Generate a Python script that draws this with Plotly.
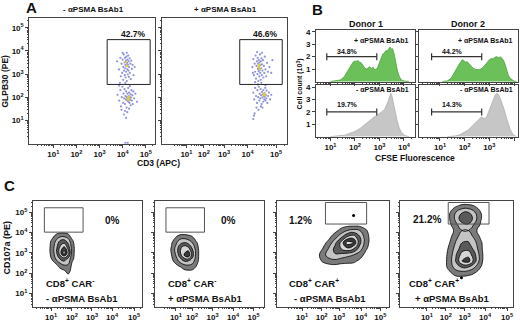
import math
import plotly.graph_objects as go

# ======================= DATA =======================
# ---- Panel A: GLPB30 (PE) vs CD3 (APC) dot plots, values in log10 display units
A1_X = [3.76,3.84,3.90,3.92,3.95,3.98,4.00,4.02,4.03,4.05,4.06,4.08,4.09,4.10,4.11,4.12,4.13,4.14,4.15,4.16,4.17,4.18,4.19,4.20,4.21,4.22,4.23,4.24,4.25,4.26,4.27,4.28,4.30,4.31,4.33,4.35,4.37,4.40,4.43,4.47,4.52,3.88,4.12,4.18,4.00,
        3.78,3.85,3.90,3.93,3.96,3.99,4.02,4.04,4.06,4.08,4.10,4.12,4.14,4.15,4.17,4.18,4.20,4.21,4.22,4.24,4.25,4.26,4.27,4.28,4.30,4.31,4.32,4.34,4.35,4.36,4.38,4.40,4.42,4.44,4.46,4.50,4.55,4.62,4.10,4.05,4.15,4.20,3.95,4.28,4.12,4.22,3.85,4.32]
A1_Y = [3.55,3.20,3.70,2.90,3.45,3.05,3.62,2.75,3.30,3.85,3.15,3.50,2.95,3.70,3.25,3.40,2.85,3.58,3.10,3.75,3.35,2.70,3.48,3.20,3.62,2.98,3.40,3.80,3.15,3.55,2.88,3.30,3.68,3.05,3.45,2.78,3.58,3.22,3.40,2.95,3.30,2.62,2.62,3.92,3.92,
        2.10,1.85,2.30,1.60,2.00,2.45,1.75,2.15,1.95,2.35,1.70,2.05,1.90,2.25,1.55,2.00,1.85,2.15,1.95,2.40,1.80,2.05,1.92,2.20,1.75,2.00,1.88,2.12,1.65,1.98,2.30,1.85,2.08,1.70,2.25,1.95,2.15,1.80,1.40,1.25,1.10,1.35,1.45,1.50,0.02,0.02,2.50,2.48]
A1_CORE_X = [4.18,4.22,4.28,4.14,4.26]
A1_CORE_Y = [3.35,1.95,2.02,3.52,1.88]

A2_X = [3.88,3.92,3.95,3.98,4.00,4.02,4.04,4.06,4.08,4.10,4.11,4.12,4.13,4.14,4.15,4.16,4.17,4.18,4.19,4.20,4.21,4.22,4.23,4.24,4.25,4.26,4.28,4.29,4.30,4.32,4.34,4.36,4.38,4.40,4.42,4.45,4.48,4.52,4.56,4.62,4.70,4.75,4.08,4.30,4.00,4.27,3.90,
        3.92,3.96,4.00,4.04,4.08,4.10,4.13,4.16,4.18,4.20,4.22,4.24,4.26,4.28,4.30,4.32,4.34,4.35,4.36,4.38,4.40,4.41,4.42,4.44,4.45,4.47,4.49,4.50,4.53,4.56,4.60,4.65,4.70,4.06,4.15,4.25,3.98,3.92,3.95,4.12,4.45,4.32]
A2_Y = [3.30,3.65,2.95,3.45,3.10,3.80,2.80,3.35,3.55,3.00,3.70,3.22,3.45,2.70,3.12,3.60,3.30,2.90,3.50,3.18,3.85,3.05,3.38,2.75,3.55,3.25,3.68,2.95,3.42,3.15,3.60,2.85,3.35,3.05,3.75,3.20,2.90,3.48,3.10,3.30,3.05,3.60,3.95,3.92,2.65,2.62,3.05,
        2.20,1.90,2.40,2.05,1.75,2.30,2.00,2.45,1.85,2.15,1.95,2.35,2.08,1.70,2.22,1.98,2.12,1.80,2.30,2.05,1.90,2.18,2.02,2.40,1.85,2.10,1.95,2.28,1.75,2.05,2.20,1.90,2.10,1.55,1.45,1.60,1.30,1.05,1.20,2.55,2.52,1.55]
A2_CORE_X = [4.15,4.20,4.38,4.42,4.40,4.18]
A2_CORE_Y = [3.30,3.22,2.10,2.08,2.15,3.40]

A_GATES = [[3.33, 5.19, 2.55, 4.49], [3.33, 5.18, 2.55, 4.49]]   # x0, x1, y0, y1
A_PCTS = ["42.7%", "46.6%"]
A_TITLES = ["- αPSMA BsAb1", "+ αPSMA BsAb1"]
A1_XTICKS = [1, 2, 3, 4, 5]
A2_XTICKS = [1.01, 1.77, 2.65, 3.67, 4.91]
A_YTICKS = [1, 2, 3, 4, 5]
DECADE_LABELS = ["10<sup>1</sup>", "10<sup>2</sup>", "10<sup>3</sup>", "10<sup>4</sup>", "10<sup>5</sup>"]

# ---- Panel B: CFSE histograms (x: log10 CFSE, y: cell count x10^3)
D1_PLUS_X = [1.0,1.2,1.4,1.55,1.65,1.75,1.85,1.92,2.0,2.06,2.12,2.18,2.25,2.32,2.4,2.47,2.53,2.6,2.67,2.74,2.8,2.87,2.93,3.0,3.07,3.13,3.2,3.26,3.32,3.38,3.43,3.48,3.53,3.6,3.67,3.74,3.82,3.9,4.0,4.2]
D1_PLUS_Y = [0,0.03,0.12,0.35,0.7,1.05,1.4,1.55,1.65,1.62,1.7,1.55,1.52,1.3,1.08,1.0,1.12,1.18,1.05,1.15,0.95,0.98,1.15,1.5,1.9,2.2,2.3,2.5,2.45,2.7,2.78,2.6,2.65,2.2,1.5,0.8,0.35,0.12,0.04,0]
D2_PLUS_X = [1.1,1.3,1.45,1.55,1.65,1.75,1.82,1.9,1.96,2.02,2.1,2.18,2.27,2.36,2.45,2.55,2.65,2.75,2.85,2.93,3.0,3.08,3.15,3.22,3.3,3.37,3.45,3.52,3.6,3.68,3.76,3.84,3.92,4.0,4.1]
D2_PLUS_Y = [0,0.05,0.25,0.55,0.95,1.3,1.5,1.75,1.7,1.55,1.6,1.4,1.22,1.05,0.97,0.95,1.0,1.15,1.4,1.6,1.75,1.85,1.82,1.95,2.0,1.92,1.98,1.85,1.6,1.1,0.55,0.25,0.1,0.03,0]
D1_MINUS_X = [1.0,1.3,1.6,1.8,2.0,2.2,2.35,2.5,2.6,2.7,2.8,2.9,3.0,3.08,3.15,3.22,3.3,3.36,3.42,3.47,3.52,3.58,3.65,3.72,3.8,3.88,3.96,4.05,4.2]
D1_MINUS_Y = [0,0.03,0.12,0.28,0.42,0.65,0.9,1.1,1.3,1.5,1.62,1.72,1.85,1.95,2.1,2.25,2.6,2.9,3.3,3.5,3.2,2.6,1.9,1.3,0.75,0.4,0.2,0.08,0]
D2_MINUS_X = [1.3,1.6,1.8,2.0,2.15,2.3,2.45,2.58,2.68,2.76,2.84,2.92,3.0,3.08,3.16,3.23,3.3,3.37,3.44,3.52,3.6,3.68,3.76,3.84,3.92,4.0,4.1]
D2_MINUS_Y = [0,0.05,0.15,0.35,0.55,0.85,1.15,1.45,1.6,1.5,1.45,1.75,2.15,2.6,3.0,3.35,3.5,3.4,3.1,2.7,2.2,1.6,1.05,0.6,0.3,0.1,0]
# divided-cell markers: [x0, x1, y]
B_BARS = {"d1p": [0.85, 2.89, 2.0], "d2p": [0.66, 2.69, 2.0], "d1m": [0.85, 2.89, 2.0], "d2m": [0.66, 2.69, 2.0]}
B_PCTS = {"d1p": "34.8%", "d2p": "44.2%", "d1m": "19.7%", "d2m": "14.3%"}
B_XTICKS = [1, 2, 3, 4]
B_YTICKS = [1, 2, 3, 4]

# ---- Panel C: CD107a zebra/contour plots (x: display units, y: log10 CD107a)
C1_GX = [0.7,0.9,1.1,1.3,1.5,1.7,1.9,2.1]
C1_GY = [1.8,2.1,2.4,2.7,3.0,3.3,3.6,3.9,4.1]
C1_Z = [[0,0,0,0,0,0,0,0],
        [0,0,0,0,0.3,0.9,0,0],
        [0,0,0.2,1,1.5,1.4,0.2,0],
        [0,0.5,1.5,2.5,3,2.2,0.7,0],
        [0,0.8,2,4,6,4,0.9,0],
        [0,0.8,2,3.5,4.5,3,0.9,0],
        [0,0.6,1.5,2.5,2.8,2,0.6,0],
        [0,0,0.5,0.8,0.8,0.6,0,0],
        [0,0,0,0,0,0,0,0]]
C2_GX = [0.6,0.8,1.0,1.2,1.4,1.6,1.8,2.0,2.2]
C2_GY = [2.0,2.3,2.6,2.9,3.2,3.5,3.8,4.0]
C2_Z = [[0,0,0,0,0,0,0,0,0],
        [0,0,0,0.4,0.8,1.0,0.9,0.4,0],
        [0,0.2,0.9,1.8,2.5,2.5,2,0.9,0],
        [0,0.5,1.5,3,4.5,5.5,3,1.1,0],
        [0,0.6,1.8,3.2,4.5,4,2.5,1.0,0],
        [0,0.4,1.2,2.2,2.5,2.2,1.5,0.6,0],
        [0,0,0.4,0.9,1.0,0.8,0.5,0,0],
        [0,0,0,0,0,0,0,0,0]]
C3_GX = [1.9,2.2,2.5,2.8,3.1,3.4,3.7,4.0,4.3,4.6]
C3_GY = [2.3,2.6,2.9,3.2,3.5,3.8,4.1,4.4]
C3_Z = [[0,0,0,0,0,0,0,0,0,0],
        [0,0.6,1.0,1.2,0.9,0.8,0.7,0.3,0,0],
        [0,1.0,2.0,2.4,2.2,1.8,1.5,0.9,0.2,0],
        [0,0.5,1.6,2.8,3.5,4.2,3.5,2.0,0.6,0],
        [0,0.1,0.8,2.2,3.8,6.0,5.5,2.8,0.9,0],
        [0,0,0.2,1.0,2.2,3.5,4.0,2.5,0.9,0],
        [0,0,0,0.2,0.8,1.5,1.8,1.5,0.6,0],
        [0,0,0,0,0,0,0,0,0,0]]
C4_GX = [2.1,2.4,2.7,3.0,3.3,3.6,3.9,4.1]
C4_GY = [1.7,2.0,2.3,2.6,2.9,3.2,3.5,3.8,4.1,4.4,4.7,5.0,5.3,5.5]
C4_Z = [[0,0,0,0,0,0,0,0],
        [0,0.3,0.9,1.0,0.8,0.5,0,0],
        [0,0.9,2.0,2.6,2.5,1.6,0.5,0],
        [0,1.0,2.6,4.5,5.0,3.0,0.9,0],
        [0,0.9,2.4,4.0,4.2,2.8,1.0,0],
        [0,0.7,2.0,3.0,3.2,2.2,0.8,0],
        [0,0.5,1.6,2.5,2.6,1.8,0.7,0],
        [0,0.2,1.2,2.0,2.0,1.3,0.3,0],
        [0,0,0.8,1.5,1.5,0.8,0,0],
        [0,0.3,1.3,2.2,2.4,1.4,0.4,0],
        [0,0.5,1.8,3.2,3.5,2.0,0.6,0],
        [0,0.4,1.5,2.4,2.5,1.6,0.5,0],
        [0,0,0.4,0.8,0.8,0.5,0,0],
        [0,0,0,0,0,0,0,0]]
C_DOTS = {3: [[3.7], [4.84]], 4: [[2.97], [1.78]]}
C_GATES = [[0.55, 2.42, 4.02, 5.22], [0.53, 2.39, 4.02, 5.22], [2.34, 4.33, 4.42, 5.48], [2.33, 4.30, 4.42, 5.48]]
C_PCTS = ["0%", "0%", "1.2%", "21.2%"]
C_LINE1 = ["CD8<sup>+</sup> CAR<sup>-</sup>", "CD8<sup>+</sup> CAR<sup>-</sup>", "CD8<sup>+</sup> CAR<sup>+</sup>", "CD8<sup>+</sup> CAR<sup>+</sup>"]
C_LINE2 = ["- αPSMA BsAb1", "+ αPSMA BsAb1", "- αPSMA BsAb1", "+ αPSMA BsAb1"]
C_XTICKS = [[0.87, 1.88, 2.85, 3.82, 4.88], [1.01, 1.79, 2.78, 3.77, 4.76], [1.21, 2.16, 3.0, 4.06, 4.99], [1.30, 2.21, 3.12, 4.11, 5.17]]
C_YTICKS = [1, 2, 3, 4, 5]

# ======================= LAYOUT HELPERS =======================
W, H = 520, 327
FONT = "Liberation Sans, Arial, sans-serif"
LC = "#444"

def X(p):
    return p / W

def Y(p):
    return 1 - p / H

def minor_ticks(major, rng):
    out = []
    segs = list(zip(major[:-1], major[1:]))
    first = segs[0][1] - segs[0][0]
    last = segs[-1][1] - segs[-1][0]
    segs = [(major[0] - first, major[0])] + segs + [(major[-1], major[-1] + last)]
    for a, b in segs:
        for k in range(2, 10):
            v = a + (b - a) * math.log10(k)
            if rng[0] < v < rng[1]:
                out.append(v)
    return out

def axis(dom, rng, tickvals, ticktext, labels, anchor, minor=True, fsize=8):
    d = dict(domain=dom, range=rng, showline=True, mirror=True, linecolor=LC, linewidth=1,
             ticks="outside", ticklen=3, tickwidth=1, tickcolor=LC, showgrid=False, zeroline=False,
             tickmode="array", tickvals=tickvals, ticktext=["<b>%s</b>" % t for t in ticktext],
             showticklabels=labels, tickfont=dict(family=FONT, size=fsize, color="#111"),
             anchor=anchor, fixedrange=True)
    if minor:
        d["minor"] = dict(tickmode="array", tickvals=minor_ticks(tickvals, rng), ticks="outside",
                          ticklen=1.5, tickwidth=0.8, tickcolor=LC, showgrid=False)
    return d

layout = dict(width=W, height=H, margin=dict(l=0, r=0, t=0, b=0), paper_bgcolor="white",
              plot_bgcolor="white", showlegend=False, font=dict(family=FONT, color="#111"))

# Panel A axes
A_XR, A_YR = [-0.04, 5.40], [-0.02, 5.43]
A_YDOM = [Y(142.7), Y(16)]
layout["xaxis"] = axis([X(29.3), X(155)], A_XR, A1_XTICKS, DECADE_LABELS, True, "y")
layout["yaxis"] = axis(A_YDOM, A_YR, A_YTICKS, DECADE_LABELS, True, "x")
layout["xaxis2"] = axis([X(162.3), X(287.3)], A_XR, A2_XTICKS, DECADE_LABELS, True, "y2")
layout["yaxis2"] = axis(A_YDOM, A_YR, A_YTICKS, DECADE_LABELS, False, "x2")

# Panel B axes
B1_XR, B2_XR = [0.41, 4.45], [0.15, 4.16]
BX1, BX2 = [X(316), X(415)], [X(419), X(518)]
BTOP, BBOT = [Y(80.7), Y(28.3)], [Y(135.7), Y(83.3)]
B_XL = DECADE_LABELS[:4]
B_YL = [str(v) for v in B_YTICKS]
layout["xaxis3"] = axis(BX1, B1_XR, B_XTICKS, B_XL, False, "y3")
layout["yaxis3"] = axis(BTOP, [-0.06, 4.14], B_YTICKS, B_YL, True, "x3", minor=False)
layout["xaxis4"] = axis(BX2, B2_XR, B_XTICKS, B_XL, False, "y4")
layout["yaxis4"] = axis(BTOP, [-0.06, 4.14], B_YTICKS, B_YL, False, "x4", minor=False)
layout["xaxis5"] = axis(BX1, B1_XR, B_XTICKS, B_XL, True, "y5")
layout["yaxis5"] = axis(BBOT, [-0.02, 4.2], B_YTICKS, B_YL, True, "x5", minor=False)
layout["xaxis6"] = axis(BX2, B2_XR, B_XTICKS, B_XL, True, "y6")
layout["yaxis6"] = axis(BBOT, [-0.02, 4.2], B_YTICKS, B_YL, False, "x6", minor=False)

# Panel C axes
C_XDOMS = [[33, 142], [155, 264], [277, 389], [400, 513]]
C_YDOM = [Y(306.7), Y(200.5)]
C_YR = [0.345, 5.54]
for i, (l, r) in enumerate(C_XDOMS):
    n = 7 + i
    xr = [0, (r - l) / 20.7]
    layout["xaxis%d" % n] = axis([X(l), X(r)], xr, C_XTICKS[i], DECADE_LABELS, True, "y%d" % n)
    layout["yaxis%d" % n] = axis(C_YDOM, C_YR, C_YTICKS, DECADE_LABELS, i == 0, "x%d" % n)

fig = go.Figure(layout=layout)

# ======================= TRACES =======================
# Panel A dots
for xs, ys, cx, cy, n in [(A1_X, A1_Y, A1_CORE_X, A1_CORE_Y, ""), (A2_X, A2_Y, A2_CORE_X, A2_CORE_Y, "2")]:
    fig.add_trace(go.Scatter(x=xs, y=ys, mode="markers", xaxis="x" + n, yaxis="y" + n,
                             marker=dict(size=2.2, color="#7479d0", opacity=0.8, line=dict(width=0)),
                             hoverinfo="skip"))
    fig.add_trace(go.Scatter(x=cx, y=cy, mode="markers", xaxis="x" + n, yaxis="y" + n,
                             marker=dict(size=2.6, color="#e0cc3a", line=dict(width=0)), hoverinfo="skip"))

for i, g in enumerate(A_GATES):
    n = "" if i == 0 else "2"
    fig.add_shape(type="rect", xref="x" + n, yref="y" + n, x0=g[0], x1=g[1], y0=g[2], y1=g[3],
                  line=dict(color="#222", width=1))

# Panel B histograms
hist = [("3", D1_PLUS_X, D1_PLUS_Y, "#6cc05a", "#4fa03f", "d1p"),
        ("4", D2_PLUS_X, D2_PLUS_Y, "#6cc05a", "#4fa03f", "d2p"),
        ("5", D1_MINUS_X, D1_MINUS_Y, "#c6c6c6", "#b0b0b0", "d1m"),
        ("6", D2_MINUS_X, D2_MINUS_Y, "#c6c6c6", "#b0b0b0", "d2m")]
for n, xs, ys, fc, lc, key in hist:
    fig.add_trace(go.Scatter(x=xs, y=ys, mode="lines", fill="tozeroy", fillcolor=fc,
                             line=dict(color=lc, width=0.8), xaxis="x" + n, yaxis="y" + n, hoverinfo="skip"))
    b = B_BARS[key]
    fig.add_trace(go.Scatter(x=[b[0], b[1]], y=[b[2], b[2]], mode="lines+markers", xaxis="x" + n, yaxis="y" + n,
                             line=dict(color="#333", width=1.2),
                             marker=dict(symbol="line-ns", size=5, line=dict(color="#333", width=1.2)),
                             hoverinfo="skip"))

# Panel C contours
ZCOLORS = ["rgba(255,255,255,0)", "#7a7a7a", "#c4c4c4", "#5a5a5a", "#d6d6d6", "#3a3a3a", "#e4e4e4", "#222222"]
ZSCALE = [[k / 7, c] for k, c in enumerate(ZCOLORS)]
for i, (gx, gy, z) in enumerate([(C1_GX, C1_GY, C1_Z), (C2_GX, C2_GY, C2_Z), (C3_GX, C3_GY, C3_Z), (C4_GX, C4_GY, C4_Z)]):
    n = str(7 + i)
    fig.add_trace(go.Contour(x=gx, y=gy, z=z, xaxis="x" + n, yaxis="y" + n, showscale=False,
                             colorscale=ZSCALE, autocontour=False,
                             contours=dict(start=0.5, end=6.5, size=1, coloring="fill", showlines=True),
                             line=dict(color="black", width=0.8, smoothing=1.3), hoverinfo="skip"))
    if (i + 1) in C_DOTS:
        d = C_DOTS[i + 1]
        fig.add_trace(go.Scatter(x=d[0], y=d[1], mode="markers", xaxis="x" + n, yaxis="y" + n,
                                 marker=dict(size=3, color="black"), hoverinfo="skip"))
    g = C_GATES[i]
    fig.add_shape(type="rect", xref="x" + n, yref="y" + n, x0=g[0], x1=g[1], y0=g[2], y1=g[3],
                  line=dict(color="#555", width=1))

# ======================= TEXT =======================
def note(text, x, y, size, xanchor="center", angle=0):
    fig.add_annotation(text="<b>%s</b>" % text, x=X(x), y=Y(y), xref="paper", yref="paper",
                       showarrow=False, xanchor=xanchor, yanchor="middle", textangle=angle,
                       font=dict(family=FONT, size=size, color="#111"))

note("A", 31, 6, 15)
note("B", 317, 8, 15)
note("C", 9, 185, 15)

note(A_TITLES[0], 93, 7.5, 8)
note(A_TITLES[1], 225, 7.5, 8)
note(A_PCTS[0], 133, 32, 8.5)
note(A_PCTS[1], 265, 32, 8.5)
note("GLPB30 (PE)", 5, 80, 8.5, angle=-90)
note("CD3 (APC)", 158, 162, 8.5)

note("Donor 1", 366, 22, 9)
note("Donor 2", 468, 22, 9)
note("+ αPSMA BsAb1", 411, 38.5, 7, xanchor="right")
note("+ αPSMA BsAb1", 515, 38.5, 7, xanchor="right")
note("- αPSMA BsAb1", 411, 88, 7, xanchor="right")
note("- αPSMA BsAb1", 515, 88, 7, xanchor="right")
note(B_PCTS["d1p"], 347, 49.5, 7)
note(B_PCTS["d2p"], 452, 49.5, 7)
note(B_PCTS["d1m"], 347, 103, 7)
note(B_PCTS["d2m"], 452, 103, 7)
note("Cell count (10<sup>3</sup>)", 300, 83, 7, angle=-90)
note("CFSE Fluorescence", 415, 157, 8.5)

C_PCT_POS = [(112, 220), (228, 219.5), (300, 219.5), (427, 219)]
C_TXT1 = [44, 166, 287, 407]
C_TXT2 = [44, 166, 292, 413]
for i in range(4):
    note(C_PCTS[i], C_PCT_POS[i][0], C_PCT_POS[i][1], 10)
    note(C_LINE1[i], C_TXT1[i], 283, 9.5, xanchor="left")
    note(C_LINE2[i], C_TXT2[i], 298.5, 9.5, xanchor="left")
note("CD107a (PE)", 7, 247, 9, angle=-90)

fig.write_html("out.html", config={"displayModeBar": False})

# remove the browser's default page margin so the figure sits at (0, 0)
with open("out.html", "r", encoding="utf-8") as f:
    html = f.read()
html = html.replace("<head>", "<head><style>html,body{margin:0;padding:0;overflow:hidden;}</style>", 1)
with open("out.html", "w", encoding="utf-8") as f:
    f.write(html)
